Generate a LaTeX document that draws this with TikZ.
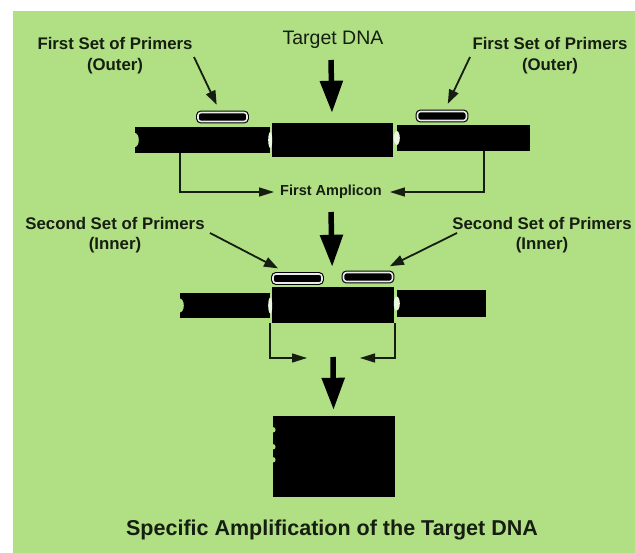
\documentclass[tikz,border=0pt]{standalone}
\usepackage{fontspec}
\setmainfont{Liberation Sans}
\usetikzlibrary{arrows.meta}
\definecolor{leaf}{RGB}{176,223,132}
\definecolor{ink}{RGB}{22,30,18}
\tikzset{
    strand/.style={rectangle, fill=black, inner sep=0pt},
    primer/.style={rectangle, rounded corners=3pt, fill=black, draw=black, line width=1.1pt, double=gray!15, double distance=1.6pt, inner sep=0pt, minimum width=49pt, minimum height=9pt},
    lbl/.style={align=center, text=ink, font=\fontsize{16.8}{20.5}\selectfont\bfseries, inner sep=0pt},
    pointer/.style={draw=ink, line width=1.8pt, -{Triangle[length=14pt,width=10pt]}},
    bracket/.style={draw=ink, line width=1.5pt, -{Triangle[length=15pt,width=9pt]}},
    bigarrow/.style={draw=black, line width=5.5pt, -{Triangle[length=32pt,width=22pt]}},
    bite/.style={fill=leaf},
    gap/.style={fill=white!75!leaf},
}
\begin{document}
\begin{tikzpicture}[x=1pt, y=-1pt]
    \path[use as bounding box, fill=white] (0,0) rectangle (635,553);
    \fill[leaf] (13,11) rectangle (635,553);

    \node[lbl] (fsl) at (115,55.5) {First Set of Primers\\(Outer)};
    \node[lbl] (fsr) at (550,55.5) {First Set of Primers\\(Outer)};
    \node[text=ink, font=\fontsize{19.5}{22}\selectfont, inner sep=0pt] (tgt) at (333,40) {Target DNA};
    \node[lbl] (ssl) at (115,235) {Second Set of Primers\\(Inner)};
    \node[lbl] (ssr) at (542,235) {Second Set of Primers\\(Inner)};
    \node[lbl, font=\fontsize{14.5}{17}\selectfont\bfseries] (amp) at (331,192) {First Amplicon};
    \node[text=ink, font=\fontsize{21.5}{24}\selectfont\bfseries, inner sep=0pt] (ttl) at (332,530) {Specific Amplification of the Target DNA};

    \node[strand, minimum width=135pt, minimum height=26pt] (lb1) at (202.5,140) {};
    \node[strand, minimum width=121pt, minimum height=34pt] (mb1) at (332.5,140) {};
    \node[strand, minimum width=133pt, minimum height=26pt] (rb1) at (463.5,138) {};
    \node[primer] (op1) at (222.5,117) {};
    \node[primer] (op2) at (442,116) {};

    \node[strand, minimum width=90pt, minimum height=25pt] (lb2) at (225,305.5) {};
    \node[strand, minimum width=122pt, minimum height=36pt] (mb2) at (333,305) {};
    \node[strand, minimum width=89pt, minimum height=27pt] (rb2) at (441.5,303.5) {};
    \node[primer] (ip1) at (297.5,278.5) {};
    \node[primer] (ip2) at (368,277) {};

    \node[strand, minimum width=122pt, minimum height=81pt] (blk) at (334,456.5) {};

    \fill[bite] (lb1.west) ellipse (4pt and 7pt);
    \fill[bite] (lb2.west) ellipse (4pt and 7pt);
    \fill[gap] (lb1.east) ellipse (2pt and 8pt);
    \fill[gap] (rb1.west) ellipse (3pt and 7pt);
    \fill[gap] (lb2.east) ellipse (2pt and 8pt);
    \fill[gap] (rb2.west) ellipse (3pt and 7pt);
    \foreach \d in {14,31,44}
        \fill[bite] ([yshift=-\d pt]blk.north west) circle (2.8pt);

    \coordinate (p1) at (194,57);
    \coordinate (p2) at (470,57);
    \coordinate (p3) at (210,233);
    \coordinate (p4) at (457,233);
    \coordinate (t0) at (331,60);
    \coordinate (t1) at (331,212);
    \coordinate (t2) at (333,357);
    \coordinate (m1) at (307,358);
    \coordinate (m2) at (360,358);

    \draw[pointer, shorten >=8pt] (p1) -- (op1);
    \draw[pointer, shorten >=8pt] (p2) -- (op2);
    \draw[pointer, shorten >=11pt] (p3) -- (ip1);
    \draw[pointer, shorten >=13pt] (p4) -- (ip2);
    \draw[bigarrow, shorten >=10pt] (t0) -- (mb1);
    \draw[bigarrow, shorten >=20pt] (t1) -- (mb2);
    \draw[bigarrow, shorten >=6pt] (t2) -- (blk);
    \draw[bracket, shorten >=6pt] ([xshift=-22.5pt]lb1.south) |- (amp.west);
    \draw[bracket, shorten >=8pt] ([xshift=20.5pt]rb1.south) |- (amp.east);
    \draw[bracket] ([xshift=-2pt]mb2.south west) |- (m1);
    \draw[bracket] ([xshift=1pt]mb2.south east) |- (m2);
\end{tikzpicture}
\end{document}
